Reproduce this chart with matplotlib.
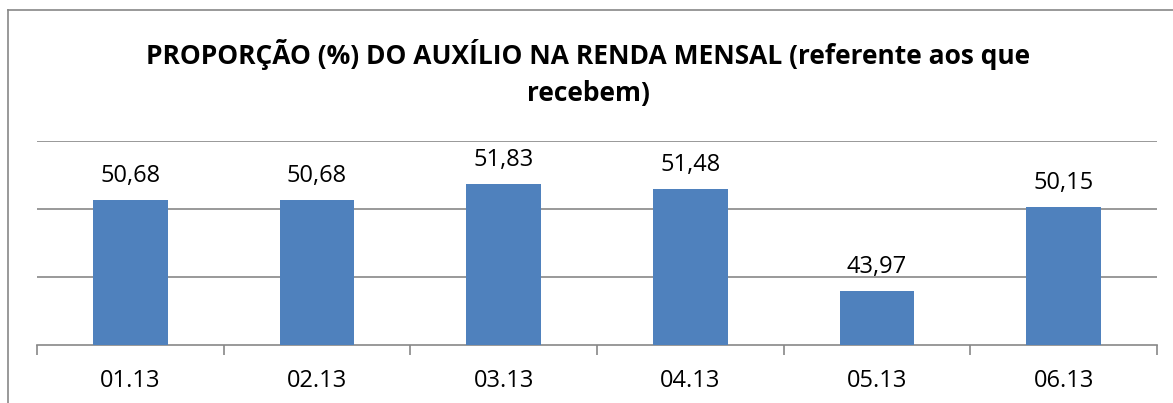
import matplotlib
matplotlib.use('Agg')
import matplotlib.pyplot as plt
from matplotlib.lines import Line2D

# data
months = ['01.13', '02.13', '03.13', '04.13', '05.13', '06.13']
values = [50.68, 50.68, 51.83, 51.48, 43.97, 50.15]
labels = ['50,68', '50,68', '51,83', '51,48', '43,97', '50,15']
title = 'PROPORÇÃO (%) DO AUXÍLIO NA RENDA MENSAL (referente aos que\nrecebem)'

plt.rcParams['font.family'] = ['Open Sans', 'DejaVu Sans']

fig = plt.figure(figsize=(11.73, 4.03), dpi=100)
ax = fig.add_axes([37/1173, 1-345/403, 1120/1173, 204/403])

x = range(len(months))
ax.bar(x, values, width=0.4, color='#4F81BD', zorder=3)
for i, v in enumerate(values):
    ax.text(i, v + 1.3, labels[i], ha='center', va='baseline', fontsize=17)

ax.set_xlim(-0.5, len(months) - 0.5)
ax.set_ylim(40, 55)
for g in [45, 50, 55]:
    ax.axhline(g, color='#878787', lw=1.2, zorder=1)

for s in ['top', 'right', 'left']:
    ax.spines[s].set_visible(False)
ax.spines['bottom'].set_color('#878787')
ax.spines['bottom'].set_linewidth(1.2)

ax.set_yticks([])
ax.set_xticks([i - 0.5 for i in range(len(months) + 1)])
ax.set_xticklabels([])
ax.set_xticks(list(x), minor=True)
ax.set_xticklabels(months, minor=True, fontsize=17)
ax.tick_params(axis='x', which='major', length=7, color='#878787', width=1.2)
ax.tick_params(axis='x', which='minor', length=0, pad=17)

fig.text(588/1173, 1-73/403, title, ha='center', va='center',
         fontsize=19, fontweight='bold', linespacing=1.45)

# outer frame
fig.add_artist(Line2D([8/1173, 8/1173], [0, 1-10/403], color='#878787', lw=1.2))
fig.add_artist(Line2D([8/1173, 1], [1-10/403, 1-10/403], color='#878787', lw=1.2))

fig.savefig('out.png', dpi=100)
